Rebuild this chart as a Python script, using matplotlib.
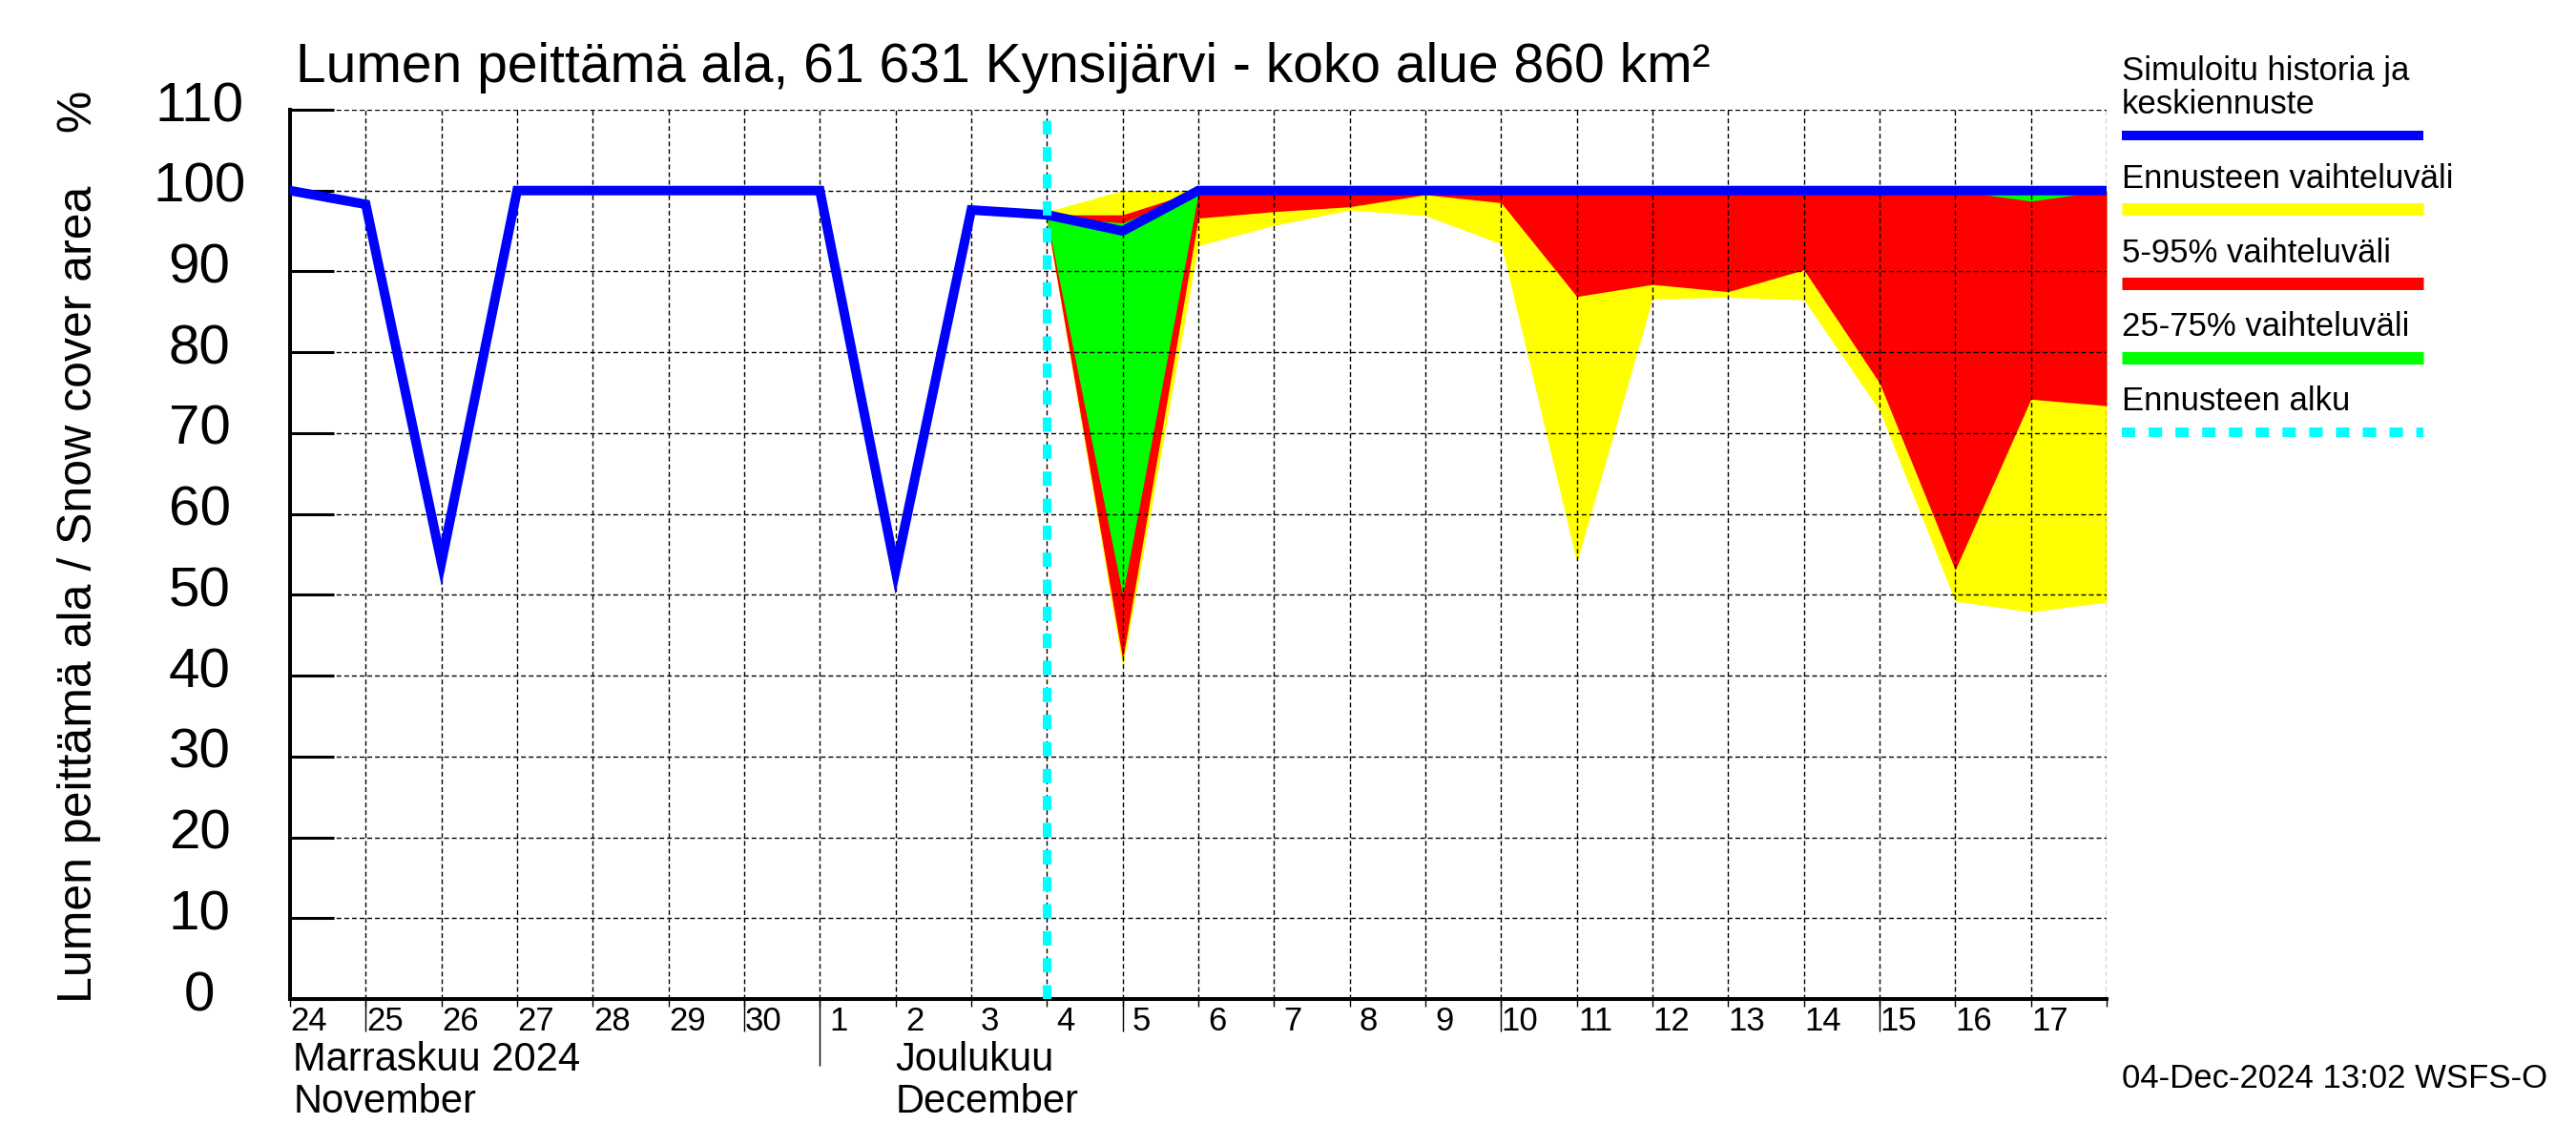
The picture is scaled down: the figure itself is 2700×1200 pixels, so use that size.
import numpy as np
import matplotlib
matplotlib.use("Agg")
import matplotlib.pyplot as plt
from matplotlib import font_manager
from matplotlib.lines import Line2D
from matplotlib import transforms

# fonts: narrow helvetica-like if available
names = {f.name for f in font_manager.fontManager.ttflist}
NARROW = 'Liberation Sans Narrow' if 'Liberation Sans Narrow' in names else 'Liberation Sans'
REG = 'Liberation Sans'
plt.rcParams['lines.scale_dashes'] = False

# data: day index 0 = 24 Nov 2024
day_labels = ['24', '25', '26', '27', '28', '29', '30', '1', '2', '3', '4', '5',
              '6', '7', '8', '9', '10', '11', '12', '13', '14', '15', '16', '17']
hist_x = list(range(25))
simulated = [100, 98.3, 54, 100, 100, 100, 100, 100, 53, 97.6, 97.0, 95.0,
             100, 100, 100, 100, 100, 100, 100, 100, 100, 100, 100, 100, 100]

fc_x = list(range(10, 25))
fc_max = [97.4, 100, 100, 100, 100, 100, 100, 100, 100, 100, 100, 100, 100, 100, 100]
fc_p95 = [97.0, 97.0, 100, 100, 100, 100, 100, 100, 100, 100, 100, 100, 100, 100, 100]
fc_p75 = [96.8, 96.0, 100, 100, 100, 100, 100, 100, 100, 100, 100, 100, 100, 100, 100]
fc_p25 = [96.5, 50.0, 99.6, 100, 100, 100, 100, 100, 100, 100, 100, 100, 100, 98.7, 100]
fc_p5 = [96.3, 42.0, 96.6, 97.4, 98.0, 99.5, 98.5, 86.9, 88.4, 87.5, 90.2, 76.2, 53.1, 74.2, 73.4]
fc_min = [96.2, 41.0, 93.2, 95.7, 97.6, 96.9, 93.4, 54.0, 86.6, 86.8, 86.5, 72.8, 49.2, 47.9, 49.1]
fc_start = 10

yticks = [0, 10, 20, 30, 40, 50, 60, 70, 80, 90, 100, 110]
long_ticks = [1, 6, 11, 16, 21]
month_starts = [7]
month_names = [("Marraskuu 2024", "November", 0.04), ("Joulukuu", "December", 8.0)]

W, H = 2700, 1200
fig = plt.figure(figsize=(27, 12), dpi=100)
ax = fig.add_axes([304 / W, 1 - 1047 / H, (2208 - 304) / W, (1047 - 115) / H])

ax.fill_between(fc_x, fc_min, fc_max, color='#ffff00', lw=0, zorder=1)
ax.fill_between(fc_x, fc_p5, fc_p95, color='#ff0000', lw=0, zorder=1.1)
ax.fill_between(fc_x, fc_p25, fc_p75, color='#00ff00', lw=0, zorder=1.2)
ax.plot(hist_x, simulated, color='#0000ff', lw=7.2, zorder=3, solid_joinstyle='miter')
ax.plot([fc_start, fc_start], [0, 108.7], color='#00ffff', lw=6.5,
        ls=(0, (10.8, 9.6)), zorder=4)

ax.set_xlim(0, 24)
ax.set_ylim(0, 110)
ax.set_xticks(range(0, 25))
ax.set_xticks(long_ticks, minor=True)
ax.xaxis.remove_overlapping_locs = False
ax.set_yticks(yticks)
ax.grid(True, which='major', color='black', lw=1.0, ls=(0, (3.6, 2.2)))
ax.set_axisbelow(False)
ax.tick_params(axis='x', which='major', direction='out', length=5.8, width=1.0,
               labelbottom=False)
ax.tick_params(axis='x', which='minor', direction='out', length=24.5, width=1.0,
               labelbottom=False)
ax.tick_params(axis='y', direction='in', length=33, width=2.2, labelleft=False)
for s in ['top', 'right']:
    ax.spines[s].set_visible(False)
for s in ['left', 'bottom']:
    ax.spines[s].set_linewidth(2.9)

# month boundary tick
ax.vlines(month_starts, -70 / 932, 0, transform=ax.get_xaxis_transform(),
          color='black', lw=1.0, clip_on=False)

# y tick labels, centred left of the axis
ytrans = transforms.offset_copy(ax.get_yaxis_transform(), fig=fig, y=-12, units='dots')
for v in yticks:
    ax.text(-95 / 1904, v, str(v), transform=ytrans, ha='center', va='baseline',
            fontsize=42, family=NARROW)

# day labels
xtrans = ax.get_xaxis_transform()
for i, lab in enumerate(day_labels):
    ax.text(i + 0.25, -33 / 932, lab, transform=xtrans, ha='center', va='baseline',
            fontsize=25, family=NARROW)
for l1, l2, xpos in month_names:
    ax.text(xpos, -75 / 932, l1, transform=xtrans, ha='left', va='baseline',
            fontsize=30, family=NARROW)
    ax.text(xpos, -119 / 932, l2, transform=xtrans, ha='left', va='baseline',
            fontsize=30, family=NARROW)

fig.text(310 / W, 1 - 86 / H, "Lumen peittämä ala, 61 631 Kynsijärvi - koko alue 860 km²",
         ha='left', va='baseline', fontsize=41, family=NARROW)
fig.text(83 / W, 1 - 573 / H, "Lumen peittämä ala / Snow cover area    %",
         rotation=90, ha='center', va='center', fontsize=36, family=REG)

# legend
lx0, lx1 = 2224 / W, 2540 / W
legend_items = [
    (["Simuloitu historia ja", "keskiennuste"], [84, 119], 142, '#0000ff', 7.2, '-'),
    (["Ennusteen vaihteluväli"], [197], 219, '#ffff00', 9.4, '-'),
    (["5-95% vaihteluväli"], [275], 297, '#ff0000', 9.4, '-'),
    (["25-75% vaihteluväli"], [352], 375, '#00ff00', 9.4, '-'),
    (["Ennusteen alku"], [430], 453, '#00ffff', 7.2, (0, (10.1, 10.1))),
]
for texts, bases, ly, col, lw, ls in legend_items:
    for t, b in zip(texts, bases):
        fig.text(lx0, 1 - b / H, t, ha='left', va='baseline', fontsize=25, family=NARROW)
    fig.add_artist(Line2D([lx0, lx1], [1 - ly / H, 1 - ly / H], color=col, lw=lw, ls=ls,
                          solid_capstyle='butt', dash_capstyle='butt'))

fig.text(2224 / W, 1 - 1140 / H, "04-Dec-2024 13:02 WSFS-O", ha='left', va='baseline',
         fontsize=25, family=NARROW)

fig.savefig("out.png", dpi=100)
